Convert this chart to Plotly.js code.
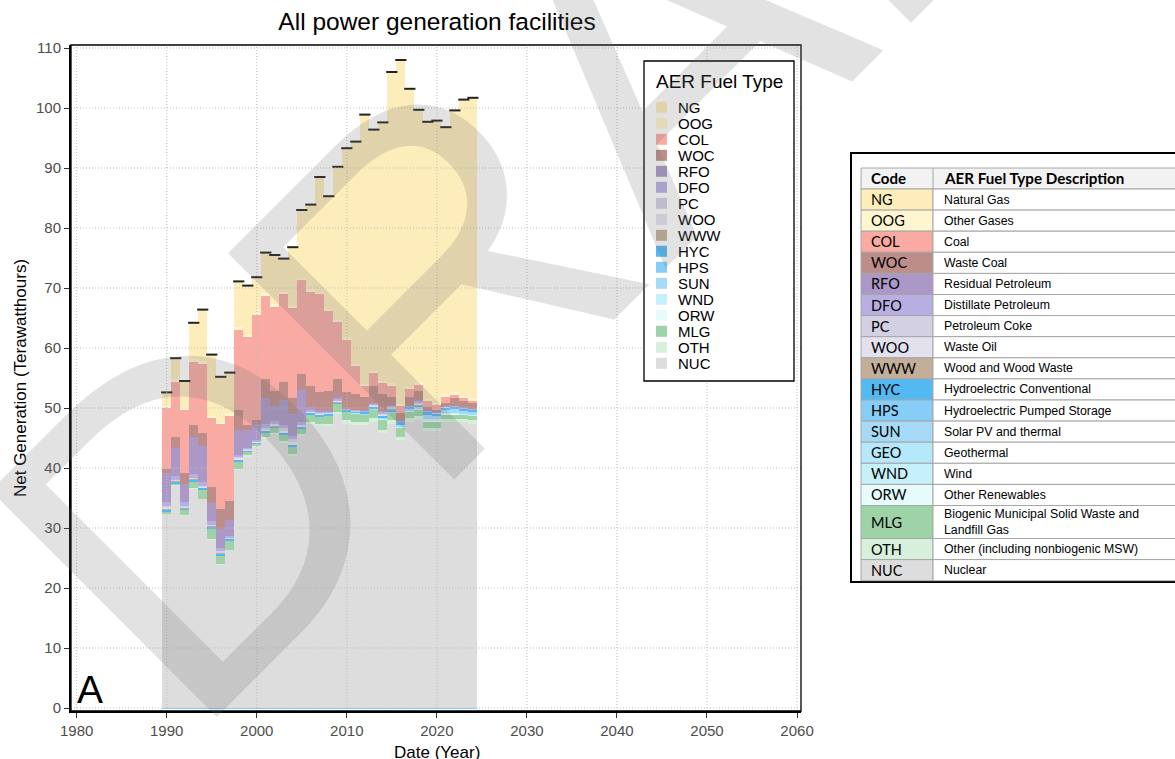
<!DOCTYPE html>
<html><head><meta charset="utf-8">
<script src="https://cdn.plot.ly/plotly-3.0.1.min.js"></script>
<style>html,body{margin:0;padding:0;background:#fff;} #chart{width:1175px;height:759px;}</style>
</head><body><div id="chart"></div>
<script>
// ---------------- DATA ----------------
const years = [1990,1991,1992,1993,1994,1995,1996,1997,1998,1999,2000,2001,2002,2003,2004,2005,2006,2007,2008,2009,2010,2011,2012,2013,2014,2015,2016,2017,2018,2019,2020,2021,2022,2023,2024];
const NUC = [32.3,37.0,32.0,36.5,34.8,28.0,23.9,26.3,39.6,41.9, 43.5,44.8,45.6,44.2,42.0,45.3,47.4,47.1,47.0,49.0, 47.4,47.2,47.2,47.7,45.8,47.4,44.7,47.7,48.0,46.1, 46.1,47.7,47.7,47.7,47.4];
const OTH = [0.1,0.2,0.1,0.1,0.1,0.1,0.1,0.1,0.2,0.2, 0.2,0.3,0.3,0.3,0.3,0.3,0.3,0.3,0.3,0.3, 0.6,0.5,0.5,0.7,0.5,0.6,0.5,0.6,0.6,0.5, 0.5,0.5,0.5,0.5,0.6];
const MLG = [0.2,0.2,0.9,1.1,1.4,1.7,1.3,1.5,1.2,0.5, 0.3,0.8,0.7,1.0,1.2,0.9,1.2,1.1,1.3,1.3, 1.3,1.3,1.1,1.2,1.7,1.1,1.4,1.0,1.0,1.1, 1.1,0.7,0.7,0.6,0.6];
const ORW = [0,0,0,0,0,0,0,0,0,0, 0,0,0,0,0,0,0,0,0,0, 0,0,0,0,0,0,0.1,0.1,0.1,0.2, 0.1,0.1,0.1,0.1,0.1];
const WND = [0,0,0,0,0,0,0,0,0,0, 0,0,0,0,0,0,0,0,0,0, 0.1,0.1,0.1,0.1,0.1,0.1,0.2,0.1,0.1,0.3, 0.3,0.2,0.2,0.1,0.1];
const SUN = [0,0,0,0,0,0,0,0,0,0, 0,0,0,0,0,0,0,0,0,0, 0,0,0.1,0.1,0.2,0.2,0.3,0.3,0.3,0.6, 0.5,0.5,0.6,0.5,0.5];
const HPS = [-0.2,-0.2,-0.2,-0.2,-0.2,-0.2,-0.2,-0.2,-0.2,-0.2, -0.2,-0.2,-0.2,-0.2,-0.2,-0.2,-0.2,-0.2,-0.2,-0.2, -0.2,-0.2,-0.2,-0.2,-0.2,-0.2,-0.2,-0.2,-0.2,-0.2, -0.2,-0.2,-0.2,-0.2,-0.2];
const HYC = [0.4,0.3,0.2,0.3,0.3,0.4,0.4,0.2,0.3,0.3, 0.2,0.2,0.3,0.3,0.3,0.3,0.3,0.4,0.4,0.3, 0.2,0.3,0.3,0.3,0.3,0.3,0.4,0.3,0.3,0.5, 0.4,0.3,0.3,0.3,0.3];
const WWW = [0.1,0.1,0.1,0.1,0.1,0.1,0.1,0.0,0.1,0.0, 0.0,0.1,0.1,0.1,0.1,0.1,0.0,0.0,0.0,0.1, 0,0,0,0.1,0.1,0.1,0,0,0.1,0, 0,0,0,0,0];
const WOO = [0.2,0.1,0.1,0.1,0.1,0.1,0.1,0.1,0.2,0.1, 0.1,0.2,0.2,0.3,0.4,0.1,0.1,0.1,0.1,0.1, 0,0,0,0.1,0.1,0.1,0,0,0.1,0, 0,0,0,0,0];
const PC  = [0.4,0.1,0.2,0.2,0.2,0.1,0.2,0.1,0.2,0.1, 0.1,0.3,0.2,0.4,0.5,0.2,0.1,0.1,0.1,0.1, 0.1,0.1,0.1,0.2,0.2,0.2,0.1,0.1,0.2,0.1, 0.1,0.1,0.1,0.1,0.1];
const DFO = [0.7,0.6,0.7,0.6,0.7,0.6,0.5,0.3,0.4,0.3, 0.3,0.6,0.5,0.6,0.6,0.5,0.2,0.2,0.2,0.3, 0.1,0.1,0.1,0.2,0.3,0.2,0.1,0.1,0.3,0.1, 0.1,0.1,0.1,0.1,0.1];
const RFO = [4.7,4.8,3.1,6.1,6.0,3.0,3.3,2.7,4.1,3.0, 2.6,4.3,2.4,4.2,3.6,5.3,0.6,0.4,0.3,0.4, 0.1,0.1,0.1,0.2,0.2,0.2,0.1,0.1,0.2,0.1, 0.1,0.1,0.1,0.1,0.1];
const WOC = [0.7,1.7,1.8,2.1,2.1,2.7,3.3,3.2,3.4,0.8, 0.7,3.2,2.6,2.9,2.6,2.7,3.4,3.0,3.2,3.0, 2.8,2.7,2.3,2.7,2.9,1.4,1.2,1.5,1.6,0.6, 0.4,0.5,1.2,1.0,0.9];
const COL = [10.2,9.3,10.5,10.5,11.6,11.5,14.1,14.2,13.3,14.6, 17.5,13.9,14.0,14.7,15.0,15.6,15.8,16.3,13.2,9.4, 8.7,4.6,1.7,2.2,1.7,1.8,1.2,1.2,1.0,0.9, 0.8,1.1,0.6,0.5,0.4];
const OOG = [0.4,0.4,0.4,0.4,0.4,0.4,0.4,0.4,0.5,0.4, 0.4,0.4,0.4,0.4,0.4,0.4,0.4,0.4,0.4,0.4, 0.4,0.4,0.4,0.4,0.4,0.4,0.4,0.4,0.4,0.4, 0.4,0.4,0.4,0.4,0.4];
const NG  = [2.2,3.5,4.4,6.1,8.6,10.2,7.5,6.8,7.6,8.2, 5.9,6.8,8.2,5.5,9.8,11.3,14.1,19.1,18.8,25.5, 31.5,37.0,44.9,40.2,43.1,51.9,57.3,49.7,45.4,46.2, 47.0,44.5,47.0,49.4,50.1];

// stacking order (bottom -> top) and legend order (top -> bottom)
const stackCodes = ['NUC','OTH','MLG','ORW','WND','SUN','HPS','HYC','WWW','WOO','PC','DFO','RFO','WOC','COL','OOG','NG'];
const legendCodes = ['NG','OOG','COL','WOC','RFO','DFO','PC','WOO','WWW','HYC','HPS','SUN','WND','ORW','MLG','OTH','NUC'];
const tableCodes = ['NG','OOG','COL','WOC','RFO','DFO','PC','WOO','WWW','HYC','HPS','SUN','GEO','WND','ORW','MLG','OTH','NUC'];
const tableDescriptions = ['Natural Gas','Other Gases','Coal','Waste Coal','Residual Petroleum','Distillate Petroleum','Petroleum Coke','Waste Oil','Wood and Wood Waste','Hydroelectric Conventional','Hydroelectric Pumped Storage','Solar PV and thermal','Geothermal','Wind','Other Renewables','Biogenic Municipal Solid Waste and<br>Landfill Gas','Other (including nonbiogenic MSW)','Nuclear'];
const xTickVals = [1980,1990,2000,2010,2020,2030,2040,2050,2060];
const yTickVals = [0,10,20,30,40,50,60,70,80,90,100,110];

// ---------------- STYLE ----------------
const colors = {NG:'#fdedbb',OOG:'#fff5cf',COL:'#f8aaa3',WOC:'#bd8d8a',RFO:'#ab98c6',DFO:'#b7afe2',PC:'#d4d0e4',WOO:'#e4e1ef',WWW:'#c3af99',HYC:'#52b9f2',HPS:'#86cdf7',SUN:'#a6daf6',GEO:'#b4e8fa',WND:'#c7f1fa',ORW:'#e5fbfc',MLG:'#9dd3a7',OTH:'#d7f0db',NUC:'#dddddd'};
const series = {NUC,OTH,MLG,ORW,WND,SUN,HPS,HYC,WWW,WOO,PC,DFO,RFO,WOC,COL,OOG,NG};

const L = 71, R = 801, T = 45, B = 711;
const W = R - L, H = B - T;
const px = v => (v - L) / W;
const py = v => (B - v) / H;
const FONT = 'Liberation Sans, Arial, sans-serif';

const traces = stackCodes.map(c => ({
  type:'bar', name:c, x:years, y:series[c], width:1,
  marker:{color:colors[c], line:{width:0}}, showlegend:false, hoverinfo:'skip'
}));
const totals = years.map((_, i) => stackCodes.reduce((s, c) => s + Math.max(0, series[c][i]), 0));
traces.push({type:'scatter', mode:'markers', x:years, y:totals, showlegend:false, hoverinfo:'skip',
  marker:{symbol:'line-ew', size:8, color:'#222', line:{width:2, color:'#222'}}});

const shapes = [];
const annotations = [];
// dotted grid above data
xTickVals.forEach(v => shapes.push({type:'line', xref:'x', yref:'paper', x0:v, x1:v, y0:0, y1:1, layer:'above', line:{color:'#bdbdbd', width:1, dash:'1px,2px'}}));
yTickVals.forEach(v => shapes.push({type:'line', xref:'paper', yref:'y', x0:0, x1:1, y0:v, y1:v, layer:'above', line:{color:'#bdbdbd', width:1, dash:'1px,2px'}}));
// panel frame
shapes.push({type:'rect', xref:'paper', yref:'paper', x0:0, x1:1, y0:0, y1:1, layer:'above', line:{color:'#000', width:1.3}});

// legend box
shapes.push({type:'rect', xref:'paper', yref:'paper', x0:px(644), x1:px(794), y0:py(381), y1:py(61), layer:'above', fillcolor:'#fff', line:{color:'#000', width:1.3}});
annotations.push({xref:'paper', yref:'paper', x:px(654), y:py(81), xanchor:'left', yanchor:'middle', showarrow:false, text:'AER Fuel Type', font:{family:FONT, size:19, color:'#000'}});
legendCodes.forEach((c, i) => {
  const cy = 107.3 + 16 * i;
  shapes.push({type:'rect', xref:'paper', yref:'paper', x0:px(656), x1:px(667), y0:py(cy + 5.5), y1:py(cy - 5.5), layer:'above', fillcolor:colors[c], line:{width:0}});
  annotations.push({xref:'paper', yref:'paper', x:px(676), y:py(cy), xanchor:'left', yanchor:'middle', showarrow:false, text:c, font:{family:FONT, size:15, color:'#000'}});
});

// panel label
annotations.push({xref:'paper', yref:'paper', x:px(75), y:py(689.5), xanchor:'left', yanchor:'middle', showarrow:false, text:'A', font:{family:FONT, size:39, color:'#000'}});

// x axis title (sits partly below the picture edge, as in the original)
annotations.push({xref:'paper', yref:'paper', x:px(437), y:py(752.5), xanchor:'center', yanchor:'middle', showarrow:false, text:'Date (Year)', font:{family:FONT, size:17, color:'#000'}});

// code table
shapes.push({type:'rect', xref:'paper', yref:'paper', x0:px(851), x1:px(1195), y0:py(582), y1:py(153), fillcolor:'#fff', line:{color:'#000', width:2}});
const tL = 861, tMid = 933, tR = 1192, GRID = '#a6a6a6';
shapes.push({type:'rect', xref:'paper', yref:'paper', x0:px(tL), x1:px(tR), y0:py(189), y1:py(168), fillcolor:'#f2f2f2', line:{color:GRID, width:1}});
shapes.push({type:'line', xref:'paper', yref:'paper', x0:px(tMid), x1:px(tMid), y0:py(189), y1:py(168), line:{color:GRID, width:1}});
annotations.push({xref:'paper', yref:'paper', x:px(869), y:py(178.5), xanchor:'left', yanchor:'middle', showarrow:false, text:'<b>Code</b>', font:{family:'Lato, sans-serif', size:15, color:'#000'}});
annotations.push({xref:'paper', yref:'paper', x:px(942), y:py(178.5), xanchor:'left', yanchor:'middle', showarrow:false, text:'<b>AER Fuel Type Description</b>', font:{family:'Lato, sans-serif', size:15.2, color:'#000'}});
let yTop = 189;
tableCodes.forEach((c, i) => {
  const h = tableDescriptions[i].indexOf('<br>') >= 0 ? 33 : 21.1;
  const yBot = yTop + h, cy = (yTop + yBot) / 2;
  shapes.push({type:'rect', xref:'paper', yref:'paper', x0:px(tL), x1:px(tMid), y0:py(yBot), y1:py(yTop), fillcolor:colors[c], line:{color:GRID, width:1}});
  shapes.push({type:'rect', xref:'paper', yref:'paper', x0:px(tMid), x1:px(tR), y0:py(yBot), y1:py(yTop), fillcolor:'#fff', line:{color:GRID, width:1}});
  annotations.push({xref:'paper', yref:'paper', x:px(869), y:py(cy), xanchor:'left', yanchor:'middle', showarrow:false, text:c, font:{family:'Lato, sans-serif', size:14.5, color:'#000'}});
  annotations.push({xref:'paper', yref:'paper', x:px(942), y:py(cy), xanchor:'left', yanchor:'middle', align:'left', showarrow:false, text:tableDescriptions[i], font:{family:FONT, size:12.3, color:'#000'}});
  yTop = yBot;
});

// watermark
annotations.push({xref:'paper', yref:'paper', x:px(624), y:py(82), xanchor:'center', yanchor:'middle', showarrow:false, text:'DRAFT', textangle:-45, font:{family:FONT, size:465, color:'rgba(110,110,110,0.2)'}});

const axisCommon = {showgrid:false, zeroline:false, showline:true, linecolor:'#000', linewidth:2, ticks:'outside', ticklen:5, tickwidth:1, tickcolor:'#333', tickfont:{family:FONT, size:15, color:'#4d4d4d'}};
const layout = {
  width:1175, height:759, margin:{l:L, r:1175 - R, t:T, b:759 - B},
  paper_bgcolor:'#fff', plot_bgcolor:'#fff',
  barmode:'relative', bargap:0, showlegend:false,
  title:{text:'All power generation facilities', x:437/1175, xref:'container', xanchor:'center', y:1 - 21.5/759, yref:'container', yanchor:'middle', font:{family:FONT, size:24.5, color:'#000'}},
  xaxis:Object.assign({}, axisCommon, {range:[1979.37, 2060.44], tickvals:xTickVals, ticktext:xTickVals.map(String)}),
  yaxis:Object.assign({}, axisCommon, {range:[-0.5, 110.5], tickvals:yTickVals, ticktext:yTickVals.map(String), title:{text:'Net Generation (Terawatthours)', standoff:5, font:{family:FONT, size:17, color:'#000'}}}),
  shapes, annotations
};
Plotly.newPlot('chart', traces, layout, {displayModeBar:false, staticPlot:true});
</script>
</body></html>
